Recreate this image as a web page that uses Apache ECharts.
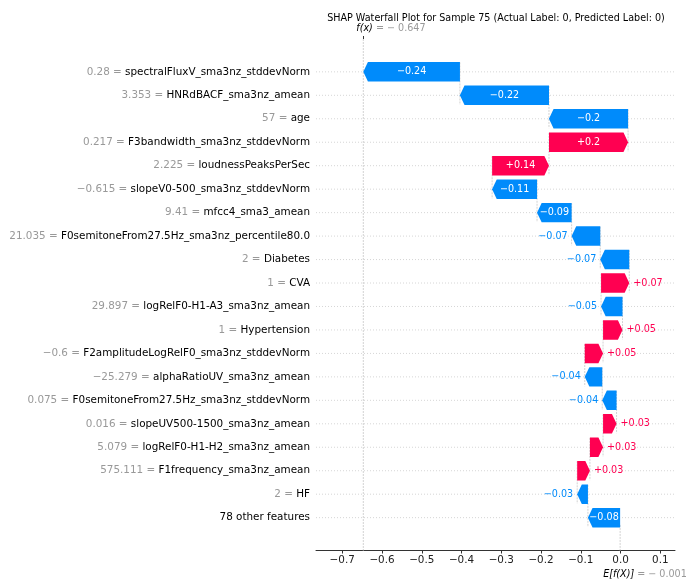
<!DOCTYPE html>
<html>
<head>
<meta charset="utf-8">
<script src="https://cdn.jsdelivr.net/npm/echarts@6/dist/echarts.min.js"></script>
<style>
  html, body { margin: 0; padding: 0; background: #ffffff; }
  #chart { width: 688px; height: 581px; }
</style>
</head>
<body>
<div id="chart"></div>
<script>
// Waterfall of feature contributions, listed top to bottom.
const featureNames = [
  'spectralFluxV_sma3nz_stddevNorm',
  'HNRdBACF_sma3nz_amean',
  'age',
  'F3bandwidth_sma3nz_stddevNorm',
  'loudnessPeaksPerSec',
  'slopeV0-500_sma3nz_stddevNorm',
  'mfcc4_sma3_amean',
  'F0semitoneFrom27.5Hz_sma3nz_percentile80.0',
  'Diabetes',
  'CVA',
  'logRelF0-H1-A3_sma3nz_amean',
  'Hypertension',
  'F2amplitudeLogRelF0_sma3nz_stddevNorm',
  'alphaRatioUV_sma3nz_amean',
  'F0semitoneFrom27.5Hz_sma3nz_stddevNorm',
  'slopeUV500-1500_sma3nz_amean',
  'logRelF0-H1-H2_sma3nz_amean',
  'F1frequency_sma3nz_amean',
  'HF',
  '78 other features'
];
const featureValues = [
  0.28, 3.353, 57, 0.217, 2.225, -0.615, 9.41, 21.035, 2, 1,
  29.897, 1, -0.6, -25.279, 0.075, 0.016, 5.079, 575.111, 2, null
];
const shapValues = [
  -0.243, -0.224, -0.199, 0.199, 0.143, -0.113, -0.087, -0.072, -0.073, 0.071,
  -0.054, 0.049, 0.046, -0.044, -0.036, 0.034, 0.033, 0.032, -0.027, -0.081
];
const baseValue = -0.001;
const xTickValues = [-0.7, -0.6, -0.5, -0.4, -0.3, -0.2, -0.1, 0.0, 0.1];
const titleText = 'SHAP Waterfall Plot for Sample 75 (Actual Label: 0, Predicted Label: 0)';

const POS = '#ff0051';
const NEG = '#008bfb';
const FONT = '"DejaVu Sans", sans-serif';
const X_MIN = -0.766, X_MAX = 0.137;
const Y_MIN = -1.4, Y_MAX = 20.4;
const HEAD_PX = 4.6;
const BAR_FRAC = 0.83;

const MINUS = '\u2212';
const fixMinus = s => s.replace('-', MINUS);
function fmtSigned(v) {
  let s = Math.abs(v).toFixed(2).replace(/0+$/, '').replace(/\.$/, '');
  return (v >= 0 ? '+' : MINUS) + s;
}
const fmtFeature = v => fixMinus(String(v));

// Running totals: the bottom row starts at the expected value.
const n = shapValues.length;
const starts = new Array(n), ends = new Array(n);
let acc = baseValue;
for (let i = n - 1; i >= 0; i--) {
  starts[i] = acc;
  acc += shapValues[i];
  ends[i] = acc;
}
const fx = acc;
const rowIdx = featureNames.map((_, i) => i);

const measureCtx = document.createElement('canvas').getContext('2d');
function textWidth(t, size) {
  measureCtx.font = size + 'px ' + FONT;
  return measureCtx.measureText(t).width;
}

const barData = rowIdx.map(i => [i, starts[i], ends[i], shapValues[i]]);

function renderBar(params, api) {
  const idx = api.value(0), s = api.value(1), e = api.value(2), v = api.value(3);
  const ps = api.coord([s, idx]);
  const pe = api.coord([e, idx]);
  const h = api.size([0, BAR_FRAC])[1];
  const dir = pe[0] >= ps[0] ? 1 : -1;
  const len = Math.abs(pe[0] - ps[0]);
  const hl = Math.min(HEAD_PX, len);
  const cy = ps[1], y0 = cy - h / 2, y1 = cy + h / 2;
  const neck = pe[0] - dir * hl;
  const color = v >= 0 ? POS : NEG;
  const label = fmtSigned(v);
  const inside = textWidth(label, 9.6) + 2 < len;
  return {
    type: 'group',
    children: [
      {
        type: 'polygon',
        shape: { points: [[ps[0], y0], [neck, y0], [pe[0], cy], [neck, y1], [ps[0], y1]] },
        style: { fill: color }
      },
      {
        type: 'text',
        x: inside ? (ps[0] + pe[0]) / 2 : pe[0] + dir * 4,
        y: cy,
        style: {
          text: label,
          fill: inside ? '#ffffff' : color,
          fontSize: 9.6,
          fontFamily: FONT,
          align: inside ? 'center' : (dir > 0 ? 'left' : 'right'),
          verticalAlign: 'middle'
        }
      }
    ]
  };
}

function renderGuides(params, api) {
  const children = [];
  const dotted = { stroke: '#d6d6d6', lineWidth: 1, lineDash: [1, 2] };
  const dashed = { stroke: '#d2d2d2', lineWidth: 1, lineDash: [2, 1] };
  rowIdx.forEach(i => {
    const a = api.coord([X_MIN, i]), b = api.coord([X_MAX, i]);
    children.push({ type: 'line', shape: { x1: a[0], y1: a[1], x2: b[0], y2: b[1] }, style: dotted });
  });
  // connectors between consecutive rows
  for (let k = 0; k < n - 1; k++) {
    const a = api.coord([starts[k], k - 0.4]), b = api.coord([starts[k], k + 1.4]);
    children.push({ type: 'line', shape: { x1: a[0], y1: a[1], x2: b[0], y2: b[1] }, style: dashed });
  }
  // model output line, full height
  const fa = api.coord([fx, Y_MIN]), fb = api.coord([fx, Y_MAX]);
  children.push({ type: 'line', shape: { x1: fa[0], y1: fa[1], x2: fb[0], y2: fb[1] }, style: dashed });
  // expected value line, bottom strip only
  const ba = api.coord([baseValue, Y_MAX - (Y_MAX - Y_MIN) / n]), bb = api.coord([baseValue, Y_MAX]);
  children.push({ type: 'line', shape: { x1: ba[0], y1: ba[1], x2: bb[0], y2: bb[1] }, style: dashed });

  // f(x) and E[f(X)] annotations
  const topP = api.coord([fx, Y_MIN]);
  children.push({
    type: 'text', x: topP[0] - 7, y: topP[1] - 11,
    style: {
      text: '{i|f(x)}{g| = ' + MINUS + ' ' + Math.abs(fx).toFixed(3) + '}',
      align: 'left', verticalAlign: 'middle',
      rich: {
        i: { fontSize: 9.6, fontFamily: FONT, fontStyle: 'italic', fill: '#000000' },
        g: { fontSize: 9.6, fontFamily: FONT, fill: '#999999' }
      }
    }
  });
  const botP = api.coord([baseValue, Y_MAX]);
  children.push({
    type: 'text', x: botP[0] - 17, y: botP[1] + 24,
    style: {
      text: '{i|E[f(X)]}{g| = ' + (baseValue < 0 ? MINUS + ' ' : '') + Math.abs(baseValue).toFixed(3) + '}',
      align: 'left', verticalAlign: 'middle',
      rich: {
        i: { fontSize: 9.6, fontFamily: FONT, fontStyle: 'italic', fill: '#000000' },
        g: { fontSize: 9.6, fontFamily: FONT, fill: '#999999' }
      }
    }
  });
  return { type: 'group', children };
}

const chart = echarts.init(document.getElementById('chart'), null, { renderer: 'canvas' });
chart.setOption({
  animation: false,
  backgroundColor: '#ffffff',
  title: {
    text: titleText,
    left: 491,
    top: 8,
    textAlign: 'center',
    textStyle: { fontSize: 9.6, fontWeight: 'normal', fontFamily: FONT, color: '#000000' }
  },
  grid: { left: 316, right: 13, top: 39, bottom: 30.5, containLabel: false },
  xAxis: [
    {
      type: 'value', position: 'bottom', min: X_MIN, max: X_MAX,
      axisLine: { show: true, onZero: false, lineStyle: { color: '#333333', width: 1 } },
      axisTick: { show: true, customValues: xTickValues, length: 3, lineStyle: { color: '#333333' } },
      axisLabel: {
        customValues: xTickValues, margin: 5, fontSize: 10.4, fontFamily: FONT, color: '#222222',
        formatter: v => fixMinus(Number(v).toFixed(1))
      },
      splitLine: { show: false }
    },
    {
      type: 'value', position: 'top', min: X_MIN, max: X_MAX,
      axisLine: { show: false, onZero: false },
      axisTick: { show: true, customValues: [fx], length: 3, lineStyle: { color: '#333333' } },
      axisLabel: { show: false, customValues: [fx] },
      splitLine: { show: false }
    }
  ],
  yAxis: {
    type: 'value', inverse: true, min: Y_MIN, max: Y_MAX,
    axisLine: { show: false, onZero: false },
    axisTick: { show: false },
    splitLine: { show: false },
    axisLabel: {
      customValues: rowIdx, margin: 6, fontSize: 10.4, fontFamily: FONT,
      formatter: val => {
        const i = Math.round(val);
        const fv = featureValues[i];
        if (fv === null || fv === undefined) return '{n|' + featureNames[i] + '}';
        return '{g|' + fmtFeature(fv) + ' = }{n|' + featureNames[i] + '}';
      },
      rich: {
        g: { fontSize: 10.4, fontFamily: FONT, color: '#999999' },
        n: { fontSize: 10.4, fontFamily: FONT, color: '#000000' }
      }
    }
  },
  series: [
    {
      type: 'custom', name: 'guides', silent: true, z: 1,
      clip: false,
      renderItem: renderGuides,
      data: [[0, 0]],
      encode: { x: 0, y: 1 }
    },
    {
      type: 'custom', name: 'contributions', z: 2,
      renderItem: renderBar,
      data: barData,
      encode: { x: [1, 2], y: 0 }
    }
  ]
});
</script>
</body>
</html>
